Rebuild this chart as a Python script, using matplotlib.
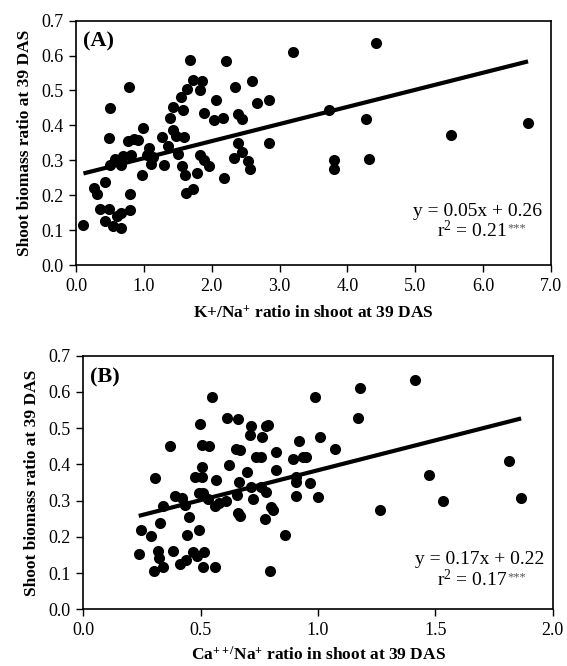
import matplotlib
matplotlib.use('Agg')
import matplotlib.pyplot as plt
import numpy as np

plt.rcParams['font.family'] = 'Liberation Serif'
plt.rcParams['mathtext.fontset'] = 'custom'
plt.rcParams['mathtext.rm'] = 'Liberation Serif'
plt.rcParams['mathtext.bf'] = 'Liberation Serif:bold'
plt.rcParams['mathtext.it'] = 'Liberation Serif:italic'

# Panel A: K+/Na+ ratio vs shoot biomass ratio
k_na = [0.11, 0.26, 0.31, 0.43, 0.36, 0.48, 0.43, 0.54, 0.60, 0.67, 0.67, 0.80, 0.79,
        0.48, 0.50, 0.78, 0.50, 0.57, 0.67, 0.70, 0.81, 0.77, 0.85, 0.92, 0.99, 0.97,
        1.07, 1.04, 1.10, 1.13, 1.26, 1.30, 1.36, 1.38, 1.43, 1.48, 1.51, 1.59, 1.43,
        1.57, 1.54, 1.63, 1.72, 1.68, 1.85, 1.82, 1.88, 1.56, 1.61, 1.62, 1.72, 1.79,
        1.83, 1.89, 1.96, 2.03, 2.16, 2.06, 2.21, 2.18, 2.35, 2.39, 2.45, 2.39, 2.44,
        2.33, 2.54, 2.56, 2.59, 2.66, 2.85, 2.85, 3.19, 3.73, 4.27, 4.42, 4.31, 3.80,
        3.80, 5.52, 6.66]
biomass_a = [0.114, 0.222, 0.203, 0.239, 0.160, 0.160, 0.126, 0.113, 0.140, 0.106, 0.148,
             0.159, 0.203, 0.364, 0.450, 0.510, 0.286, 0.305, 0.288, 0.311, 0.314, 0.355,
             0.362, 0.359, 0.393, 0.257, 0.335, 0.314, 0.289, 0.310, 0.367, 0.288, 0.340,
             0.421, 0.388, 0.371, 0.319, 0.367, 0.452, 0.443, 0.481, 0.505, 0.529, 0.586,
             0.526, 0.502, 0.435, 0.284, 0.257, 0.205, 0.219, 0.265, 0.314, 0.302, 0.283,
             0.416, 0.421, 0.473, 0.583, 0.250, 0.510, 0.433, 0.419, 0.350, 0.324, 0.308,
             0.298, 0.276, 0.527, 0.464, 0.474, 0.350, 0.611, 0.445, 0.419, 0.635, 0.305,
             0.302, 0.274, 0.372, 0.408]
fit_a = (0.049, 0.257)

# Panel B: Ca++/Na+ ratio vs shoot biomass ratio
ca_na = [0.236, 0.245, 0.287, 0.307, 0.301, 0.316, 0.323, 0.340, 0.328, 0.340, 0.368,
         0.382, 0.390, 0.422, 0.432, 0.413, 0.439, 0.450, 0.442, 0.465, 0.484, 0.513,
         0.510, 0.560, 0.491, 0.496, 0.507, 0.535, 0.505, 0.474, 0.507, 0.493, 0.510,
         0.531, 0.550, 0.567, 0.562, 0.578, 0.609, 0.613, 0.659, 0.619, 0.652, 0.666,
         0.662, 0.655, 0.659, 0.669, 0.697, 0.723, 0.716, 0.716, 0.709, 0.761, 0.734,
         0.758, 0.758, 0.779, 0.787, 0.779, 0.772, 0.796, 0.819, 0.819, 0.801, 0.808,
         0.860, 0.893, 0.918, 0.936, 0.950, 0.907, 0.907, 0.904, 0.964, 0.985, 1.010,
         0.999, 1.177, 1.169, 1.074, 1.414, 1.474, 1.534, 1.265, 1.815, 1.865]
biomass_b = [0.153, 0.219, 0.202, 0.363, 0.107, 0.162, 0.142, 0.116, 0.238, 0.285, 0.450,
             0.162, 0.312, 0.307, 0.288, 0.125, 0.135, 0.256, 0.204, 0.158, 0.148, 0.158,
             0.116, 0.116, 0.219, 0.511, 0.453, 0.450, 0.394, 0.365, 0.365, 0.322, 0.322,
             0.305, 0.586, 0.356, 0.284, 0.293, 0.298, 0.529, 0.525, 0.397, 0.443, 0.439,
             0.351, 0.316, 0.265, 0.259, 0.379, 0.305, 0.337, 0.505, 0.482, 0.476, 0.420,
             0.420, 0.337, 0.505, 0.510, 0.325, 0.250, 0.107, 0.434, 0.385, 0.282, 0.275,
             0.204, 0.416, 0.465, 0.420, 0.420, 0.365, 0.351, 0.314, 0.348, 0.586, 0.476,
             0.310, 0.611, 0.528, 0.443, 0.634, 0.371, 0.300, 0.275, 0.408, 0.307]
fit_b = (0.165, 0.219)

fig = plt.figure(figsize=(5.67, 6.66), dpi=100)
ax_a = fig.add_axes([0.134, 0.602, 0.838, 0.367])
ax_b = fig.add_axes([0.147, 0.085, 0.828, 0.381])


def draw_panel(ax, x, y, fit, xmax, xstep, xlabel, xpad, tag, eq, r2, eq_x, r2_x, eq_y, r2_y):
    ax.scatter(x, y, s=64, color='black', zorder=3, linewidths=0)
    xs = np.array([min(x), max(x)])
    ax.plot(xs, fit[0] * xs + fit[1], color='black', lw=3, solid_capstyle='butt', zorder=2)
    ax.set_xlim(0, xmax)
    ax.set_ylim(0, 0.7)
    ax.set_xticks(np.arange(0, xmax + xstep / 2, xstep))
    ax.set_yticks(np.arange(0, 0.71, 0.1))
    ax.xaxis.set_major_formatter(plt.FormatStrFormatter('%.1f'))
    ax.yaxis.set_major_formatter(plt.FormatStrFormatter('%.1f'))
    ax.tick_params(direction='out', length=5, width=1, labelsize=13, pad=4)
    for sp in ax.spines.values():
        sp.set_linewidth(1.2)
    ax.set_xlabel(xlabel, fontsize=12.5, fontweight='bold', labelpad=xpad)
    ax.set_ylabel('Shoot biomass ratio at 39 DAS', fontsize=12.5, fontweight='bold', labelpad=6)
    ax.text(0.015, 0.955, tag, transform=ax.transAxes, fontsize=16, fontweight='bold',
            ha='left', va='top')
    ax.text(eq_x, eq_y, eq, transform=ax.transAxes, fontsize=14, ha='center', va='baseline')
    t = ax.text(r2_x, r2_y, r2, transform=ax.transAxes, fontsize=14, ha='center', va='baseline')
    ax.annotate('***', xy=(1, 1), xycoords=t, xytext=(0.5, -1.5), textcoords='offset points',
                fontsize=9, color='#555555', ha='left', va='top')


draw_panel(ax_a, k_na, biomass_a, fit_a, 7.0, 1.0,
           r'K+/Na$^{\mathbf{+}}$ ratio in shoot at 39 DAS', 8, '(A)',
           'y = 0.05x + 0.26', r'r$^2$ = 0.21', 0.846, 0.834, 0.200, 0.114)
draw_panel(ax_b, ca_na, biomass_b, fit_b, 2.0, 0.5,
           r'Ca$^{\mathbf{++/}}$Na$^{\mathbf{+}}$ ratio in shoot at 39 DAS', 5, '(B)',
           'y = 0.17x + 0.22', r'r$^2$ = 0.17', 0.845, 0.827, 0.177, 0.090)

fig.savefig('out.png', dpi=100)
